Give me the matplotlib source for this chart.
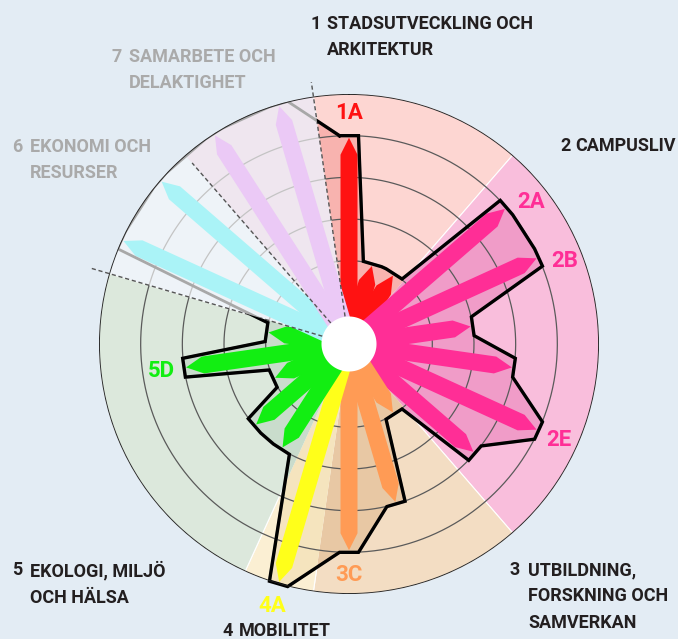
import numpy as np
import matplotlib.pyplot as plt

# indicator scores (0-5), clockwise from north
indicators = ["1A", "1B", "1C", "2A", "2B", "2C", "2D", "2E", "2F",
              "3A", "3B", "3C", "4A", "5A", "5B", "5C", "5D", "5E",
              "6A", "6B", "7A", "7B"]
scores = [4, 1, 1, 4, 4, 2, 3, 4, 3, 1, 3, 4, 5, 2, 2, 1, 3, 1, 5, 5, 5, 5]
labelled = ["1A", "2A", "2B", "2E", "3C", "4A", "5D"]

theme_ids = ["1", "2", "3", "4", "5", "6", "7"]
theme_names = ["STADSUTVECKLING OCH\nARKITEKTUR", "CAMPUSLIV",
               "UTBILDNING,\nFORSKNING OCH\nSAMVERKAN", "MOBILITET",
               "EKOLOGI, MILJÖ\nOCH HÄLSA", "EKONOMI OCH\nRESURSER",
               "SAMARBETE OCH\nDELAKTIGHET"]
faded = ["6", "7"]

# styling
bar_colors = {"1": "#FF1212", "2": "#FF2E96", "3": "#FF9B55", "4": "#FFFF1A",
              "5": "#12EE12", "6": "#AAF3F7", "7": "#EBC9F6"}
bg_colors = {"1": "#FDD6D2", "2": "#F9BEDC", "3": "#F3DDC3", "4": "#FBEFD3",
             "5": "#DCE8DC", "6": "#EEF3F8", "7": "#EFE6EF"}
inner_colors = {"1": "#F8B3AF", "2": "#F09CC8", "3": "#E8C8A4", "4": "#F5E4BE",
                "5": "#C9DCCC"}
# tag nudges (degrees) so they sit clear of the outline corners
tag_shift = {"2A": 3.0, "2B": 3.5}
# (number x, text x, cap top y) in pixels
title_pos = {"1": (310, 327, 15), "2": (560, 575, 137), "3": (510, 528, 561),
             "4": (222, 239, 622), "5": (12, 30, 561), "6": (12, 30, 138),
             "7": (111, 129, 48)}
BG = "#E3ECF4"
INK = "#231F20"
GREY_TXT = "#AAAAAA"

W, H = 678, 639
RMAX = 6.0          # outer circle (score 5 + hole)
HOLE = 1.0          # radial offset for score 0
PX = 250 / RMAX     # pixels per radial unit
BAR_HALF = 8.5 / PX
TIP = 17 / PX
CORNER = 9.5 / PX

plt.rcParams["font.family"] = ["Roboto", "DejaVu Sans"]

fig = plt.figure(figsize=(W / 100, H / 100), dpi=100, facecolor=BG)
ax = fig.add_axes([(349 - 250) / W, (639 - 344 - 250) / H, 500 / W, 500 / H],
                  projection="polar")
ax.set_theta_zero_location("N")
ax.set_theta_direction(-1)
ax.axis("off")

n = len(indicators)
step = 2 * np.pi / n
theta = np.arange(n) * step
groups = [s[0] for s in indicators]
rho = HOLE + np.array(scores, dtype=float)


def sector(a, b, r=RMAX):
    t = np.linspace(a, b, 80)
    return (np.concatenate([[a], t, [b]]),
            np.concatenate([[0], np.full(t.size, r), [0]]))


# background wedges per theme
sectors = {}
for g in theme_ids:
    idx = [k for k in range(n) if groups[k] == g]
    a, b = theta[idx[0]] - step / 2, theta[idx[-1]] + step / 2
    ts, rs = sector(a, b)
    ec = "white" if g not in faded else "none"
    sectors[g] = ax.fill(ts, rs, facecolor=bg_colors[g], edgecolor=ec,
                         lw=0.8, zorder=1)[0]

# envelope polygon through the square ends of the bars
dt = np.arctan2(CORNER, rho)
rc = np.hypot(rho, CORNER)
env_t = np.column_stack([theta - dt, theta + dt]).ravel()
env_r = np.column_stack([rc, rc]).ravel()
env_t = np.append(env_t, env_t[0])
env_r = np.append(env_r, env_r[0])

for g, c in inner_colors.items():
    p = ax.fill(env_t, env_r, facecolor=c, edgecolor="none", zorder=2)[0]
    p.set_clip_path(sectors[g])

# rings at scores 1-4
active_end = theta[groups.index("6")] - step / 2
ring_dark = np.linspace(-step / 2, active_end, 300)
ring_light = np.linspace(active_end, 2 * np.pi - step / 2, 120)
for s in range(1, 5):
    ax.plot(ring_dark, np.full(ring_dark.size, HOLE + s), color="#5A5A5A",
            lw=0.9, zorder=3)
    ax.plot(ring_light, np.full(ring_light.size, HOLE + s), color="#C4C4C4",
            lw=0.9, zorder=3)

# pointed bars
for k in range(n):
    tip = rho[k] - 0.05
    s = np.array([0.0, tip - TIP, tip, tip - TIP, 0.0])
    u = np.array([-BAR_HALF, -BAR_HALF, 0.0, BAR_HALF, BAR_HALF])
    ax.fill(theta[k] + np.arctan2(u, s), np.hypot(s, u),
            facecolor=bar_colors[groups[k]], edgecolor="none", zorder=4)

# dashed dividers in front of the faded themes
for g, r_end in [("7", 6.35), ("6", 5.75), ("5", 6.45)]:
    idx = [k for k in range(n) if groups[k] == g]
    a = theta[idx[-1]] + step / 2
    ax.plot([a, a], [0, r_end], color="#555555", lw=1.0, ls=(0, (3, 2)),
            zorder=4.5, clip_on=False)

# envelope outline: grey over faded themes, black over the rest
ax.plot(env_t, env_r, color="#A8A8A8", lw=2.0, zorder=5)
clip_t, clip_r = sector(-step / 2, active_end, RMAX + 0.3)
clip = ax.fill(clip_t, clip_r, facecolor="none", edgecolor="none")[0]
line, = ax.plot(env_t, env_r, color="black", lw=2.4, zorder=5.5,
                solid_joinstyle="miter")
line.set_clip_path(clip)

# outer circle and centre hole
full = np.linspace(0, 2 * np.pi, 400)
ax.plot(full, np.full(full.size, RMAX), color="#222222", lw=1.3, zorder=6)
ax.fill(full, np.full(full.size, 0.66), facecolor="white", edgecolor="none",
        zorder=7)

# indicator tags
for name in labelled:
    k = indicators.index(name)
    t = theta[k] + np.deg2rad(tag_shift.get(name, 0.0))
    ax.text(t, rho[k] + 0.55, name, color=bar_colors[groups[k]],
            fontsize=16, fontweight="bold", ha="center", va="center",
            zorder=8)

ax.set_ylim(0, RMAX)

# theme headings
for g, name in zip(theme_ids, theme_names):
    xn, xt, ytop = title_pos[g]
    col = GREY_TXT if g in faded else INK
    y = 1 - ytop / H
    fig.text(xn / W, y, g, color=col, fontsize=13, fontweight="bold",
             va="top", ha="left")
    fig.text(xt / W, y, name, color=col, fontsize=13, fontweight="bold",
             va="top", ha="left", linespacing=1.6)

fig.savefig("out.png", dpi=100, facecolor=BG)
